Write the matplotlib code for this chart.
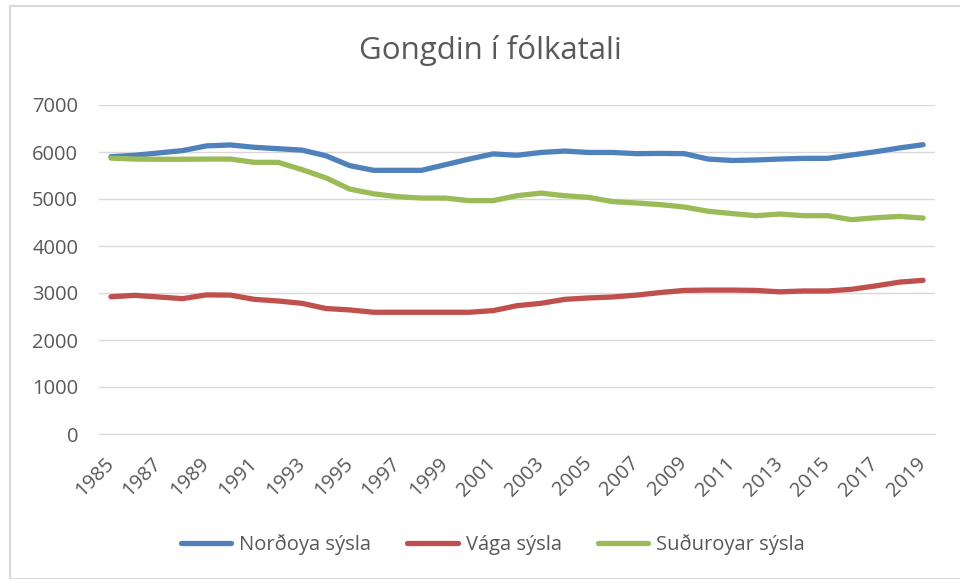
import numpy as np
import matplotlib
matplotlib.use("Agg")
import matplotlib.pyplot as plt
import matplotlib.transforms as mtrans
from matplotlib.patches import Rectangle

plt.rcParams['font.family'] = ['Open Sans', 'DejaVu Sans']

# Data
years = list(range(1985, 2020))
nordoya = [5900, 5930, 5980, 6030, 6130, 6150, 6100, 6070, 6040, 5920,
           5710, 5610, 5610, 5610, 5730, 5850, 5960, 5930, 5990, 6020,
           5990, 5990, 5965, 5970, 5965, 5850, 5820, 5830, 5850, 5865,
           5865, 5935, 6005, 6085, 6155]
vaga = [2920, 2950, 2915, 2880, 2960, 2955, 2865, 2830, 2780, 2670,
        2640, 2590, 2590, 2590, 2590, 2590, 2625, 2730, 2780, 2865,
        2895, 2915, 2955, 3010, 3055, 3062, 3062, 3055, 3025, 3043,
        3043, 3078, 3150, 3230, 3270]
sudur = [5870, 5850, 5845, 5845, 5850, 5850, 5780, 5780, 5625, 5450,
         5210, 5110, 5050, 5020, 5020, 4965, 4965, 5070, 5125, 5070,
         5035, 4945, 4915, 4880, 4830, 4740, 4690, 4645, 4680, 4645,
         4645, 4560, 4600, 4630, 4595]
labels = ['Norðoya sýsla', 'Vága sýsla', 'Suðuroyar sýsla']
colors = ['#4F81BD', '#C0504D', '#9BBB59']
yticks = [0, 1000, 2000, 3000, 4000, 5000, 6000, 7000]

fig = plt.figure(figsize=(9.6, 5.79), dpi=100)
W, H = 960, 579

# chart border (cropped at right and bottom)
fig.patches.append(Rectangle((10 / W, 0), 1.2, 1 - 6 / H, transform=fig.transFigure,
                             fill=False, edgecolor='#D9D9D9', linewidth=1.5))

ax = fig.add_axes([99 / W, 1 - 434 / H, 836 / W, 329 / H])

for series, lab, col in zip([nordoya, vaga, sudur], labels, colors):
    ax.plot(years, series, color=col, linewidth=3.8, label=lab,
            solid_capstyle='round', solid_joinstyle='round')

ax.set_xlim(1984.5, 2019.5)
ax.set_ylim(0, 7000)
ax.set_yticks(yticks)
ax.set_xticks(years[::2])
ax.set_xticklabels([str(y) for y in years[::2]], rotation=45, ha='right',
                   va='center', rotation_mode='anchor')
shift = mtrans.ScaledTranslation(4 / 100, 0, fig.dpi_scale_trans)
for t in ax.get_xticklabels():
    t.set_transform(t.get_transform() + shift)
ax.grid(axis='y', color='#D9D9D9', linewidth=1)
ax.set_axisbelow(True)
for s in ['top', 'right', 'left']:
    ax.spines[s].set_visible(False)
ax.spines['bottom'].set_color('#D9D9D9')
ax.tick_params(axis='both', length=0, colors='#595959', labelsize=14.5)
ax.tick_params(axis='y', pad=15)
ax.tick_params(axis='x', pad=19)

fig.text(490 / W, 1 - 50 / H, 'Gongdin í fólkatali', ha='center', va='center',
         fontsize=22.5, color='#595959')

fig.legend(loc='center', bbox_to_anchor=(493 / W, 1 - 545 / H), ncol=3,
           frameon=False, fontsize=14.5, labelcolor='#595959',
           handlelength=2.5, handletextpad=0.4, columnspacing=1.8)

fig.savefig('out.png', dpi=100)
